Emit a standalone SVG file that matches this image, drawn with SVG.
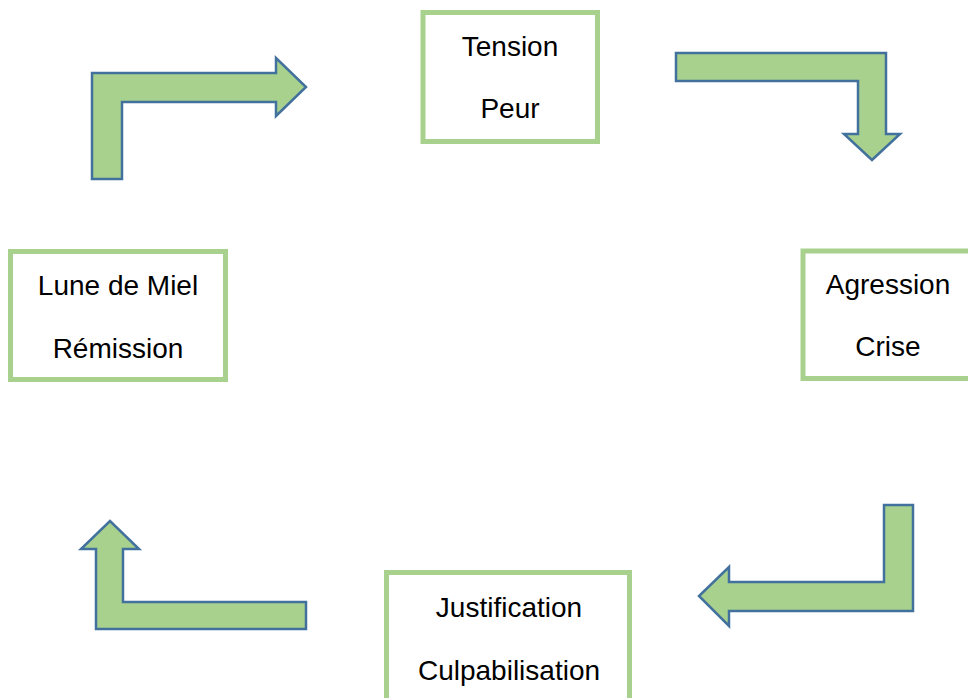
<svg xmlns="http://www.w3.org/2000/svg" width="968" height="698" viewBox="0 0 968 698">
  <style>
    .box { fill: #FFFFFF; stroke: #A9D18E; stroke-width: 5; }
    .lbl { font-family: "Liberation Sans", Arial, sans-serif; font-size: 28px; fill: #000000; text-anchor: middle; }
    .arr { fill: #A9D18E; stroke: #41719C; stroke-width: 2.5; stroke-linejoin: miter; }
  </style>
  <rect x="0" y="0" width="968" height="698" fill="#FFFFFF"/>
  <g id="connectors">
    <path id="arrow-remission-tension" class="arr" d="M92,179 L92,73 L276,73 L276,58 L306,87 L276,116 L276,102 L122,102 L122,179 Z"/>
    <path id="arrow-tension-agression" class="arr" d="M676,53 L886,53 L886,134 L900,134 L872,160 L844,134 L858,134 L858,81 L676,81 Z"/>
    <path id="arrow-agression-justification" class="arr" d="M913,505 L913,611 L729,611 L729,626 L699,596 L729,567 L729,582 L884,582 L884,505 Z"/>
    <path id="arrow-justification-remission" class="arr" d="M96,629 L306,629 L306,602 L123,602 L123,549 L139,549 L110,521 L81,549 L96,549 Z"/>
  </g>
  <g id="node-tension">
    <rect class="box" x="423" y="12.5" width="174.5" height="129"/>
    <text class="lbl" x="510" y="56">Tension</text>
    <text class="lbl" x="510" y="118">Peur</text>
  </g>
  <g id="node-agression">
    <rect class="box" x="803" y="251" width="180" height="127.5"/>
    <text class="lbl" x="888" y="294">Agression</text>
    <text class="lbl" x="888" y="356">Crise</text>
  </g>
  <g id="node-justification">
    <rect class="box" x="386.5" y="572.5" width="243" height="140"/>
    <text class="lbl" x="509" y="617">Justification</text>
    <text class="lbl" x="509" y="680">Culpabilisation</text>
  </g>
  <g id="node-lune">
    <rect class="box" x="10.5" y="251.5" width="215" height="128"/>
    <text class="lbl" x="118" y="295">Lune de Miel</text>
    <text class="lbl" x="118" y="358">Rémission</text>
  </g>
</svg>
